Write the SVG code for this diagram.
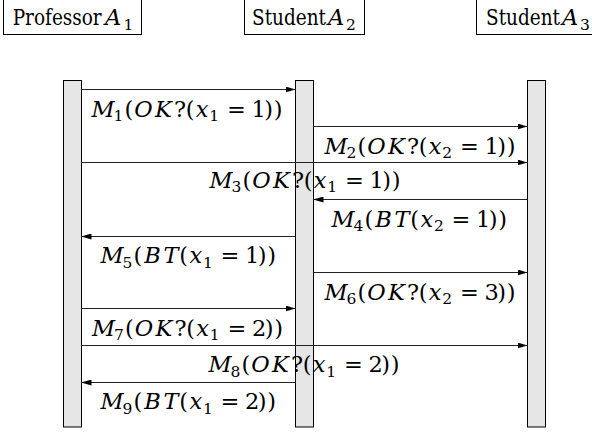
<svg xmlns="http://www.w3.org/2000/svg" width="592" height="432" viewBox="0 0 592 432">
<style>
  .box{fill:#fff;stroke:#000;stroke-width:1}
  .bar{fill:#e6e6e6;stroke:#000;stroke-width:1}
  text{font-family:'DejaVu Serif',serif;fill:#000}
  .hd{font-size:22.5px}
  .hs{font-size:15.5px}
  .msg{fill:none;stroke:#222;stroke-width:1;marker-end:url(#ah)}
  .lbl{font-size:22.5px}
  .i{font-style:italic}
  .s{font-size:15.5px}
</style>
<defs>
  <marker id="ah" markerUnits="userSpaceOnUse" markerWidth="10" markerHeight="6" refX="10" refY="3" orient="auto">
    <path d="M0,0 L10,3 L0,6 z" fill="#000"/>
  </marker>
</defs>
<rect width="592" height="432" fill="#fff"/>
<g id="professorA1">
  <rect class="box" x="3.5" y="-5" width="138" height="39.5"/>
  <text class="hd" y="25"><tspan x="12.7" textLength="89" lengthAdjust="spacingAndGlyphs">Professor</tspan><tspan class="i" x="105">A</tspan><tspan class="hs" x="123.5" y="29.5">1</tspan></text>
  <rect class="bar" x="63.5" y="80.5" width="18" height="346.5"/>
</g>
<g id="studentA2">
  <rect class="box" x="244.5" y="-5" width="120" height="39.5"/>
  <text class="hd" y="25"><tspan x="252" textLength="74" lengthAdjust="spacingAndGlyphs">Student</tspan><tspan class="i" x="328">A</tspan><tspan class="hs" x="346" y="29.5">2</tspan></text>
  <rect class="bar" x="295.5" y="80.5" width="18" height="346.5"/>
</g>
<g id="studentA3">
  <rect class="box" x="476.5" y="-5" width="120" height="39.5"/>
  <text class="hd" y="25"><tspan x="486" textLength="74" lengthAdjust="spacingAndGlyphs">Student</tspan><tspan class="i" x="562">A</tspan><tspan class="hs" x="580" y="29.5">3</tspan></text>
  <rect class="bar" x="527.5" y="80.5" width="18" height="346.5"/>
</g>
<g id="connectors">
  <line class="msg" x1="81.5" y1="89.5" x2="295.5" y2="89.5"/>
  <line class="msg" x1="313.5" y1="126.5" x2="527.5" y2="126.5"/>
  <line class="msg" x1="81.5" y1="162.5" x2="527.5" y2="162.5"/>
  <line class="msg" x1="527.5" y1="199.5" x2="313.5" y2="199.5"/>
  <line class="msg" x1="295.5" y1="236.5" x2="81.5" y2="236.5"/>
  <line class="msg" x1="313.5" y1="272.5" x2="527.5" y2="272.5"/>
  <line class="msg" x1="81.5" y1="308.5" x2="295.5" y2="308.5"/>
  <line class="msg" x1="81.5" y1="345.5" x2="527.5" y2="345.5"/>
  <line class="msg" x1="295.5" y1="382.5" x2="81.5" y2="382.5"/>
</g>
<g id="labels">
  <text class="lbl"><tspan class="i" x="91.5" y="116.5">M</tspan><tspan class="s" x="113.5" y="121">1</tspan><tspan x="124.5" y="116.5">(</tspan><tspan class="i" x="134.3 155" y="116.5">OK</tspan><tspan x="174 185.8" y="116.5">?(</tspan><tspan class="i" x="195.8" y="116.5">x</tspan><tspan class="s" x="209.3" y="121">1</tspan><tspan x="227 251.5 264.3 273.7" y="116.5">=1))</tspan></text>
  <text class="lbl"><tspan class="i" x="324.5" y="153.5">M</tspan><tspan class="s" x="346.5" y="158">2</tspan><tspan x="357.5" y="153.5">(</tspan><tspan class="i" x="367.3 388" y="153.5">OK</tspan><tspan x="407 418.8" y="153.5">?(</tspan><tspan class="i" x="428.8" y="153.5">x</tspan><tspan class="s" x="442.3" y="158">2</tspan><tspan x="460 484.5 497.3 506.7" y="153.5">=1))</tspan></text>
  <text class="lbl"><tspan class="i" x="209.5" y="187.5">M</tspan><tspan class="s" x="231.5" y="192">3</tspan><tspan x="242.5" y="187.5">(</tspan><tspan class="i" x="252.3 273" y="187.5">OK</tspan><tspan x="292 303.8" y="187.5">?(</tspan><tspan class="i" x="313.8" y="187.5">x</tspan><tspan class="s" x="327.3" y="192">1</tspan><tspan x="345 369.5 382.3 391.7" y="187.5">=1))</tspan></text>
  <text class="lbl"><tspan class="i" x="331.5" y="226.5">M</tspan><tspan class="s" x="353.5" y="231">4</tspan><tspan x="364.5" y="226.5">(</tspan><tspan class="i" x="375.3 394.5" y="226.5">BT</tspan><tspan x="410.3" y="226.5">(</tspan><tspan class="i" x="420.4" y="226.5">x</tspan><tspan class="s" x="433.9" y="231">2</tspan><tspan x="451.6 476 488.8 498.2" y="226.5">=1))</tspan></text>
  <text class="lbl"><tspan class="i" x="100.5" y="263">M</tspan><tspan class="s" x="122.5" y="267.5">5</tspan><tspan x="133.5" y="263">(</tspan><tspan class="i" x="144.3 163.5" y="263">BT</tspan><tspan x="179.3" y="263">(</tspan><tspan class="i" x="189.4" y="263">x</tspan><tspan class="s" x="202.9" y="267.5">1</tspan><tspan x="220.6 245 257.8 267.2" y="263">=1))</tspan></text>
  <text class="lbl"><tspan class="i" x="324.5" y="299.5">M</tspan><tspan class="s" x="346.5" y="304">6</tspan><tspan x="357.5" y="299.5">(</tspan><tspan class="i" x="367.3 388" y="299.5">OK</tspan><tspan x="407 418.8" y="299.5">?(</tspan><tspan class="i" x="428.8" y="299.5">x</tspan><tspan class="s" x="442.3" y="304">2</tspan><tspan x="460 484.5 497.3 506.7" y="299.5">=3))</tspan></text>
  <text class="lbl"><tspan class="i" x="92" y="335.5">M</tspan><tspan class="s" x="114" y="340">7</tspan><tspan x="125" y="335.5">(</tspan><tspan class="i" x="134.8 155.5" y="335.5">OK</tspan><tspan x="174.5 186.3" y="335.5">?(</tspan><tspan class="i" x="196.3" y="335.5">x</tspan><tspan class="s" x="209.8" y="340">1</tspan><tspan x="227.5 252 264.8 274.2" y="335.5">=2))</tspan></text>
  <text class="lbl"><tspan class="i" x="208.5" y="372">M</tspan><tspan class="s" x="230.5" y="376.5">8</tspan><tspan x="241.5" y="372">(</tspan><tspan class="i" x="251.3 272" y="372">OK</tspan><tspan x="291 302.8" y="372">?(</tspan><tspan class="i" x="312.8" y="372">x</tspan><tspan class="s" x="326.3" y="376.5">1</tspan><tspan x="344 368.5 381.3 390.7" y="372">=2))</tspan></text>
  <text class="lbl"><tspan class="i" x="100.5" y="409">M</tspan><tspan class="s" x="122.5" y="413.5">9</tspan><tspan x="133.5" y="409">(</tspan><tspan class="i" x="144.3 163.5" y="409">BT</tspan><tspan x="179.3" y="409">(</tspan><tspan class="i" x="189.4" y="409">x</tspan><tspan class="s" x="202.9" y="413.5">1</tspan><tspan x="220.6 245 257.8 267.2" y="409">=2))</tspan></text>
</g>
</svg>
